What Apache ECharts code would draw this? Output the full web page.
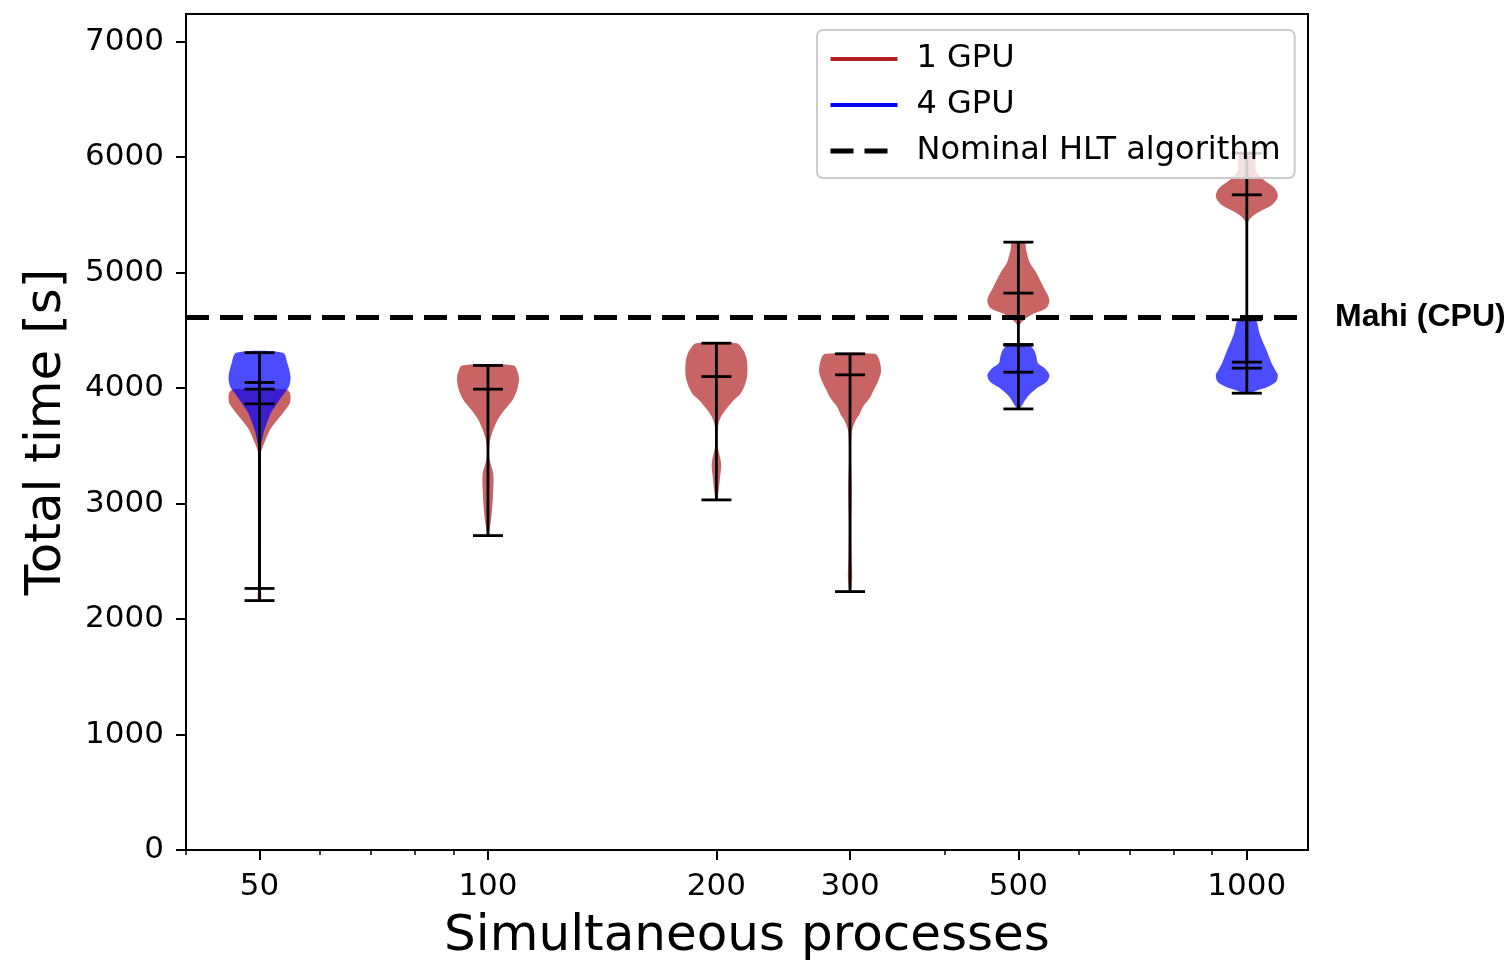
<!DOCTYPE html>
<html>
<head>
<meta charset="utf-8">
<script src="https://cdn.jsdelivr.net/npm/echarts@6/dist/echarts.min.js"></script>
<style>
  html, body { margin: 0; padding: 0; background: #ffffff; }
  #chart { width: 1510px; height: 960px; }
</style>
</head>
<body>
<div id="chart"></div>
<script>
// ---- Data: total time [s] per number of simultaneous processes ----
const processCounts = [50, 100, 200, 300, 500, 1000];

// 1 GPU: extrema and medians
const gpu1Max    = [3991, 4196, 4389, 4297, 5264, 6035];
const gpu1Median = [3864, 3991, 4100, 4115, 4823, 5674];
const gpu1Min    = [2160, 2723, 3032, 2238, 4372, 4225];

// 1 GPU: violin outlines, [time, relative density] from top to bottom
const gpu1Shape50   = [[3991,0.85],[3960,0.98],[3915,1.0],[3864,0.97],[3783,0.75],[3700,0.5],[3639,0.34],[3523,0.15],[3437,0.04],[3300,0.02],[2700,0.02],[2300,0.04],[2160,0.05]];
const gpu1Shape100  = [[4196,0.83],[4129,0.97],[4072,1.0],[3985,0.94],[3899,0.8],[3812,0.54],[3725,0.31],[3639,0.17],[3552,0.07],[3466,0.03],[3379,0.05],[3263,0.17],[3119,0.17],[2974,0.14],[2859,0.1],[2772,0.05],[2723,0.02]];
const gpu1Shape200  = [[4389,0.65],[4332,0.86],[4260,0.97],[4186,1.0],[4100,0.99],[4014,0.9],[3942,0.75],[3899,0.57],[3812,0.3],[3742,0.13],[3667,0.05],[3560,0.03],[3494,0.04],[3350,0.15],[3234,0.12],[3090,0.06],[3032,0.02]];
const gpu1Shape300  = [[4297,0.8],[4245,0.94],[4144,1.0],[4057,0.9],[3985,0.77],[3912,0.63],[3840,0.42],[3769,0.3],[3725,0.19],[3667,0.1],[3610,0.05],[3408,0.03],[3119,0.06],[2830,0.04],[2541,0.05],[2368,0.07],[2267,0.04],[2238,0.02]];
const gpu1Shape500  = [[5264,0.2],[5198,0.25],[5085,0.37],[4998,0.58],[4880,0.8],[4765,1.0],[4693,0.9],[4635,0.42],[4577,0.13],[4540,0.03],[4450,0.01],[4372,0.01]];
const gpu1Shape1000 = [[6035,0.22],[6006,0.25],[5948,0.28],[5876,0.3],[5803,0.55],[5731,0.9],[5659,1.0],[5588,0.82],[5516,0.33],[5458,0.08],[5400,0.02],[4800,0.01],[4225,0.01]];
const gpu1Shapes = [gpu1Shape50, gpu1Shape100, gpu1Shape200, gpu1Shape300, gpu1Shape500, gpu1Shape1000];

// 4 GPU: measured only at three process counts
const gpu4Counts = [50, 500, 1000];
const gpu4Max    = [4307, 4378, 4592];
const gpu4Median = [4049, 4138, 4173];
const gpu4Min    = [2265, 3820, 3956];

const gpu4Shape50   = [[4307,0.75],[4216,0.9],[4100,1.0],[4014,0.95],[3927,0.72],[3840,0.5],[3783,0.36],[3639,0.16],[3523,0.06],[3437,0.03],[3000,0.015],[2500,0.03],[2265,0.04]];
const gpu4Shape500  = [[4378,0.3],[4332,0.5],[4274,0.58],[4216,0.63],[4173,0.85],[4115,1.0],[4057,0.92],[4000,0.6],[3927,0.3],[3855,0.13],[3820,0.03]];
const gpu4Shape1000 = [[4592,0.27],[4476,0.41],[4400,0.52],[4332,0.63],[4216,0.8],[4150,0.93],[4115,1.0],[4057,0.95],[4014,0.7],[3985,0.4],[3956,0.1]];
const gpu4Shapes = [gpu4Shape50, gpu4Shape500, gpu4Shape1000];

// Reference CPU time of the nominal HLT algorithm
const nominalTime = 4615;

// Axis ticks
const xMajorTicks = [50, 100, 200, 300, 500, 1000];
const xMinorTicks = [40, 60, 70, 80, 90, 400, 600, 700, 800, 900];
const yTicks = [0, 1000, 2000, 3000, 4000, 5000, 6000, 7000];

// ---- Styling ----
const RED = '#b22222';
const BLUE = '#0000ff';
const RED_FILL = 'rgba(178,34,34,0.7)';
const BLUE_FILL = 'rgba(0,0,255,0.7)';
const VIOLIN_HALF_WIDTH = 31;
const CAP_HALF_WIDTH = 15;
const WHISKER_WIDTH = 2.8;
const FONT = 'DejaVu Sans';

function violinRenderer(shapes, fill) {
  return function (params, api) {
    const pos = api.value(0);
    const shape = shapes[params.dataIndex];
    const left = [], right = [];
    shape.forEach(function (pt) {
      const c = api.coord([pos, pt[0]]);
      left.push([c[0] - pt[1] * VIOLIN_HALF_WIDTH, c[1]]);
      right.push([c[0] + pt[1] * VIOLIN_HALF_WIDTH, c[1]]);
    });
    return {
      type: 'polygon',
      shape: { points: left.concat(right.reverse()), smooth: 0.3 },
      style: { fill: fill }
    };
  };
}

function whiskerRenderer(params, api) {
  const pos = api.value(0);
  const lo = api.coord([pos, api.value(1)]);
  const mid = api.coord([pos, api.value(2)]);
  const hi = api.coord([pos, api.value(3)]);
  const st = { stroke: '#000', lineWidth: WHISKER_WIDTH };
  const cap = function (p) {
    return { type: 'line', shape: { x1: p[0] - CAP_HALF_WIDTH, y1: p[1], x2: p[0] + CAP_HALF_WIDTH, y2: p[1] }, style: st };
  };
  return {
    type: 'group',
    children: [
      { type: 'line', shape: { x1: lo[0], y1: lo[1], x2: hi[0], y2: hi[1] }, style: st },
      cap(lo), cap(mid), cap(hi)
    ]
  };
}

const gpu1Whiskers = processCounts.map(function (p, i) { return [p, gpu1Min[i], gpu1Median[i], gpu1Max[i]]; });
const gpu4Whiskers = gpu4Counts.map(function (p, i) { return [p, gpu4Min[i], gpu4Median[i], gpu4Max[i]]; });

const chart = echarts.init(document.getElementById('chart'), null, { renderer: 'canvas' });

const axisLineStyle = { color: '#000', width: 2 };

chart.setOption({
  animation: false,
  backgroundColor: '#ffffff',
  textStyle: { fontFamily: FONT },
  grid: {
    left: 186, right: 202, top: 14, bottom: 110,
    containLabel: false, outerBoundsMode: 'none',
    show: true, borderColor: '#000', borderWidth: 2, backgroundColor: 'transparent'
  },
  xAxis: [
    {
      type: 'log', logBase: 10, min: 40, max: 1204,
      axisLine: { show: true, lineStyle: axisLineStyle },
      axisTick: { show: true, customValues: xMajorTicks, length: 10, lineStyle: axisLineStyle },
      axisLabel: {
        customValues: xMajorTicks,
        formatter: function (v) { return String(Math.round(v)); },
        fontSize: 31, fontFamily: FONT, color: '#000', margin: 21
      },
      splitLine: { show: false },
      minorTick: { show: false },
      name: 'Simultaneous processes',
      nameLocation: 'middle', nameGap: 62,
      nameTextStyle: { fontSize: 50, fontFamily: FONT, color: '#000' }
    },
    {
      type: 'log', logBase: 10, min: 40, max: 1204, position: 'bottom',
      axisLine: { show: false },
      axisTick: { show: true, customValues: xMinorTicks, length: 5, lineStyle: { color: '#000', width: 1.5 } },
      axisLabel: { show: false },
      splitLine: { show: false }
    }
  ],
  yAxis: {
    type: 'value', min: 0, max: 7240, interval: 1000,
    axisLine: { show: true, lineStyle: axisLineStyle },
    axisTick: { show: true, customValues: yTicks, length: 10, lineStyle: axisLineStyle },
    axisLabel: {
      customValues: yTicks,
      formatter: function (v) { return String(v); },
      fontSize: 31, fontFamily: FONT, color: '#000', margin: 22,
      padding: [3, 0, 0, 0]
    },
    splitLine: { show: false },
    name: 'Total time [s]',
    nameLocation: 'middle', nameGap: 114, nameRotate: 90,
    nameTextStyle: { fontSize: 50, fontFamily: FONT, color: '#000' }
  },
  legend: {
    left: 817, top: 30, orient: 'vertical',
    itemWidth: 67, itemHeight: 14, itemGap: 10,
    padding: [11, 14, 9, 11],
    backgroundColor: 'rgba(255,255,255,0.8)',
    borderColor: '#cccccc', borderWidth: 2, borderRadius: 6,
    itemStyle: { opacity: 0 },
    lineStyle: { width: 'inherit', type: 'inherit' },
    textStyle: { fontSize: 32, fontFamily: FONT, color: '#000', lineHeight: 36, padding: [0, 0, 0, 14] },
    data: ['1 GPU', '4 GPU', 'Nominal HLT algorithm']
  },
  series: [
    {
      name: '1 GPU', type: 'line', data: [], symbol: 'none',
      lineStyle: { color: RED, width: 4 }, itemStyle: { color: RED }
    },
    {
      name: '4 GPU', type: 'line', data: [], symbol: 'none',
      lineStyle: { color: BLUE, width: 4 }, itemStyle: { color: BLUE }
    },
    {
      name: 'gpu1-violins', type: 'custom', z: 1,
      renderItem: violinRenderer(gpu1Shapes, RED_FILL),
      data: processCounts.map(function (p, i) { return [p, gpu1Median[i]]; }),
      encode: { x: 0, y: 1 }, silent: true
    },
    {
      name: 'gpu4-violins', type: 'custom', z: 1,
      renderItem: violinRenderer(gpu4Shapes, BLUE_FILL),
      data: gpu4Counts.map(function (p, i) { return [p, gpu4Median[i]]; }),
      encode: { x: 0, y: 1 }, silent: true
    },
    {
      name: 'Nominal HLT algorithm', type: 'line', data: [], symbol: 'none', z: 2,
      lineStyle: { color: '#000', width: 5, type: [23, 11] }, itemStyle: { color: '#000' },
      markLine: {
        silent: true, z: 2,
        symbol: ['none', 'none'],
        lineStyle: { color: '#000', width: 5, type: [23, 11] },
        label: {
          show: true, position: 'end', formatter: 'Mahi (CPU)', distance: 27,
          padding: [22, 0, 0, 0],
          fontFamily: 'Liberation Sans', fontWeight: 'bold', fontSize: 32, color: '#000'
        },
        emphasis: { disabled: true },
        data: [{ yAxis: nominalTime }]
      }
    },
    {
      name: 'gpu1-whiskers', type: 'custom', z: 3,
      renderItem: whiskerRenderer, data: gpu1Whiskers,
      encode: { x: 0, y: [1, 2, 3] }, silent: true
    },
    {
      name: 'gpu4-whiskers', type: 'custom', z: 3,
      renderItem: whiskerRenderer, data: gpu4Whiskers,
      encode: { x: 0, y: [1, 2, 3] }, silent: true
    }
  ]
});
</script>
</body>
</html>
